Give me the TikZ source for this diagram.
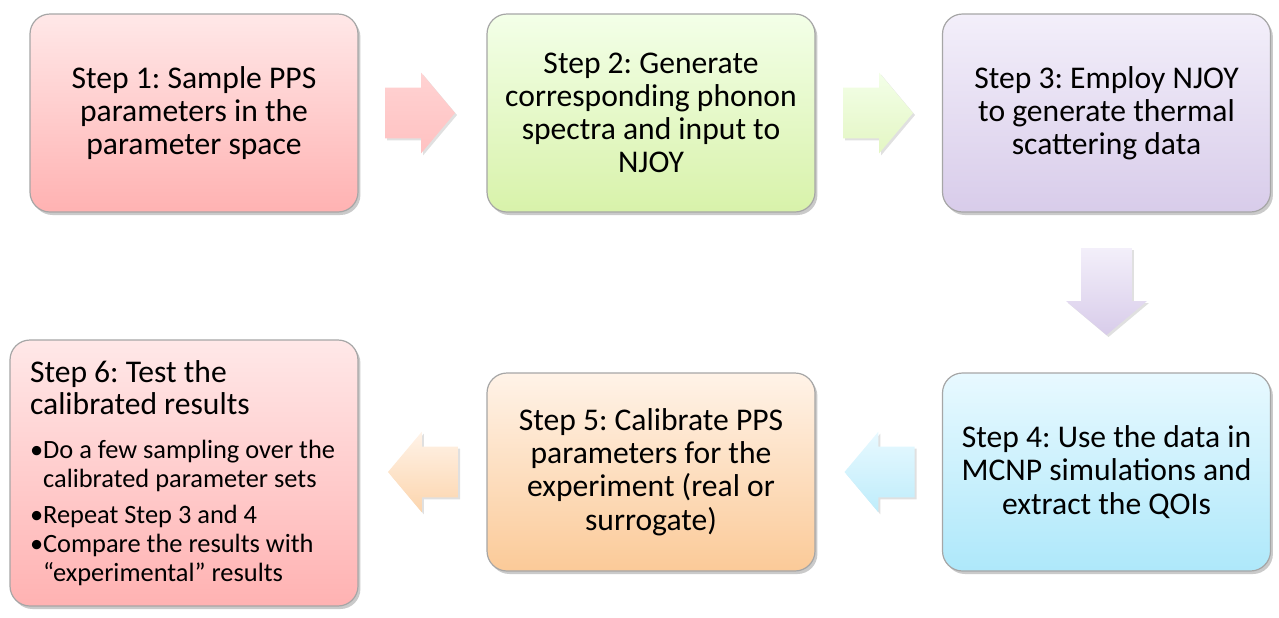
\documentclass[tikz,border=0pt]{standalone}
\usepackage{fontspec}
\setmainfont{Carlito}
\usetikzlibrary{shapes.arrows,shadows,calc}
\frenchspacing

% box colours (top / bottom of the shading)
\definecolor{pinktop}{HTML}{FFE8E8}
\definecolor{pinkbot}{HTML}{FFB2B2}
\definecolor{greentop}{HTML}{F3FFE8}
\definecolor{greenbot}{HTML}{D8F2AA}
\definecolor{purpletop}{HTML}{F3EFFA}
\definecolor{purplebot}{HTML}{D8CCEA}
\definecolor{cyantop}{HTML}{E8F9FF}
\definecolor{cyanbot}{HTML}{AEE8FA}
\definecolor{peachtop}{HTML}{FFF3E8}
\definecolor{peachbot}{HTML}{FBCA98}

\tikzset{
  stepbox/.style={rectangle, rounded corners=10pt, draw=black!35, line width=0.6pt,
    minimum width=164pt, minimum height=99pt, align=center, inner sep=3pt,
    font=\fontsize{15.8}{16.6}\selectfont,
    drop shadow={shadow xshift=1.2pt, shadow yshift=-1.5pt, opacity=0.35, fill=black!60}},
  flowarrow/.style={single arrow, draw=none, anchor=tail,
    inner xsep=0pt, inner ysep=12.5pt,
    minimum height=35pt, minimum width=40pt, single arrow head extend=7.5pt,
    single arrow tip angle=100,
    drop shadow={shadow xshift=1pt, shadow yshift=-1pt, opacity=0.12, fill=black}},
  downarrow/.style={flowarrow, shape border rotate=270,
    inner xsep=12.5pt, inner ysep=0pt, minimum height=43.5pt},
  pinkfill/.style={top color=pinktop, bottom color=pinkbot},
  greenfill/.style={top color=greentop, bottom color=greenbot},
  purplefill/.style={top color=purpletop, bottom color=purplebot},
  cyanfill/.style={top color=cyantop, bottom color=cyanbot},
  peachfill/.style={top color=peachtop, bottom color=peachbot}
}

\begin{document}
\begin{tikzpicture}[x=0.5pt, y=-0.5pt]
  \useasboundingbox (0,0) rectangle (1279,617);

  % Top row
  \node[stepbox, pinkfill] (s1) at (194,113)
    {Step 1: Sample PPS\\parameters in the\\parameter space};
  \node[stepbox, greenfill] (s2) at (651,113)
    {Step 2: Generate\\corresponding phonon\\spectra and input to\\NJOY};
  \node[stepbox, purplefill] (s3) at (1106.5,113)
    {Step 3: Employ NJOY\\to generate thermal\\scattering data};

  % Bottom row
  \node[stepbox, cyanfill] (s4) at (1106.5,472)
    {Step 4: Use the data in\\MCNP simulations and\\extract the QOIs};
  \node[stepbox, peachfill] (s5) at (651,472)
    {Step 5: Calibrate PPS\\parameters for the\\experiment (real or\\surrogate)};
  \node[stepbox, pinkfill, minimum width=174pt, minimum height=133pt,
        text width=154pt, align=left] (s6) at (184,473)
    {\raggedright\spaceskip=0pt\xspaceskip=0pt
     {\fontsize{15.8}{16}\selectfont Step 6: Test the\par calibrated results\par}
     \vspace{7.5pt}
     {\fontsize{13.2}{14.5}\selectfont
     \textbullet Do a few sampling over the\par
     \phantom{\textbullet}calibrated parameter sets\par\vspace{3.5pt}
     \textbullet Repeat Step 3 and 4\par
     \textbullet Compare the results with\par
     \phantom{\textbullet}“experimental” results\par}
     \vspace{-8pt}};

  % Block arrows between the steps
  \node[flowarrow, top color=pinktop!60!pinkbot, bottom color=pinkbot!80] (a12)
    at ($(s1.east)+(26,0)$) {};
  \node[flowarrow, top color=greentop, bottom color=greenbot!70] (a23)
    at ($(s2.east)+(27,0)$) {};
  \node[downarrow, top color=purpletop, bottom color=purplebot] (a34)
    at ($(s3.south)+(0,35)$) {};
  \node[flowarrow, shape border rotate=180, top color=cyantop, bottom color=cyanbot!80] (a45)
    at ($(s4.west)+(-27,0)$) {};
  \node[flowarrow, shape border rotate=180, top color=peachtop, bottom color=peachbot!80] (a56)
    at ($(s5.west)+(-28,0)$) {};
\end{tikzpicture}
\end{document}
